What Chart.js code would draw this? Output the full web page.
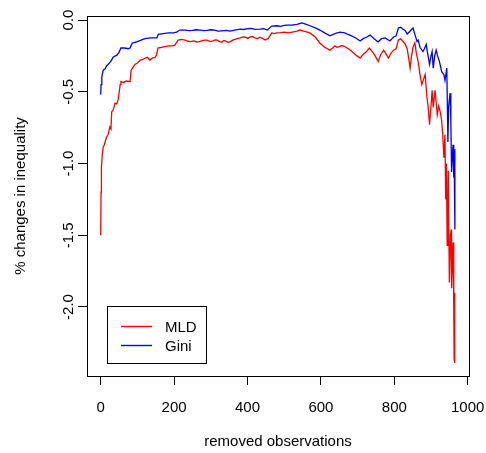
<!DOCTYPE html>
<html>
<head>
<meta charset="utf-8">
<script src="https://cdn.jsdelivr.net/npm/chart.js@4/dist/chart.umd.min.js"></script>
<style>
  html, body { margin: 0; padding: 0; background: #fff; }
</style>
</head>
<body>
<canvas id="myChart" width="486" height="453"></canvas>
<script>
// values
const obsMLD = [0, 1, 2, 4, 7, 10, 13, 16, 20, 25, 28, 30, 35, 39, 44, 48, 53, 55, 62, 70, 80, 83, 88, 93, 100, 108, 115, 121, 127, 134, 140, 148, 152, 156, 165, 175, 185, 195, 202, 206, 211, 220, 230, 238, 245, 254, 262, 268, 275, 283, 290, 298, 306, 312, 318, 324, 330, 335, 340, 347, 353, 360, 365, 372, 380, 388, 395, 401, 407, 414, 420, 427, 434, 441, 448, 456, 466, 473, 480, 490, 500, 512, 525, 535, 543, 556, 570, 585, 597, 610, 625, 632, 638, 644, 650, 656, 661, 668, 675, 682, 689, 698, 707, 715, 724, 732, 740, 748, 756, 763, 771, 778, 784, 791, 798, 805, 811, 817, 824, 830, 835, 840, 843, 847, 851, 856, 860, 865, 870, 875, 880, 884, 889, 892, 896, 900, 903, 906, 911, 917, 921, 925, 929, 932, 935, 938, 940, 942, 944, 946, 947, 950, 953, 955, 956, 958, 960, 962, 963, 964, 965];
const valMLD = [-1.50, -1.20, -1.03, -0.95, -0.885, -0.87, -0.84, -0.815, -0.80, -0.745, -0.76, -0.64, -0.62, -0.58, -0.585, -0.55, -0.45, -0.43, -0.435, -0.425, -0.43, -0.35, -0.33, -0.31, -0.30, -0.28, -0.275, -0.265, -0.26, -0.28, -0.265, -0.26, -0.245, -0.195, -0.19, -0.185, -0.18, -0.18, -0.175, -0.16, -0.14, -0.135, -0.14, -0.148, -0.15, -0.145, -0.153, -0.15, -0.145, -0.14, -0.14, -0.15, -0.145, -0.138, -0.14, -0.15, -0.155, -0.142, -0.145, -0.155, -0.15, -0.14, -0.135, -0.13, -0.125, -0.118, -0.12, -0.128, -0.118, -0.115, -0.125, -0.13, -0.12, -0.128, -0.14, -0.13, -0.09, -0.095, -0.09, -0.088, -0.085, -0.09, -0.083, -0.078, -0.07, -0.08, -0.09, -0.12, -0.16, -0.19, -0.21, -0.195, -0.18, -0.19, -0.185, -0.178, -0.18, -0.19, -0.20, -0.215, -0.23, -0.25, -0.265, -0.24, -0.22, -0.195, -0.22, -0.25, -0.29, -0.24, -0.21, -0.24, -0.265, -0.23, -0.21, -0.20, -0.14, -0.13, -0.15, -0.17, -0.20, -0.28, -0.335, -0.25, -0.19, -0.16, -0.23, -0.29, -0.38, -0.45, -0.41, -0.38, -0.54, -0.60, -0.73, -0.60, -0.49, -0.61, -0.49, -0.66, -0.60, -0.64, -0.70, -0.80, -0.96, -0.80, -1.25, -1.00, -1.57, -1.30, -1.05, -1.83, -1.50, -1.46, -1.87, -1.70, -1.55, -2.00, -2.36, -1.90, -2.39];
const obsGini = [0, 1, 3, 5, 7, 12, 16, 20, 27, 34, 40, 44, 50, 55, 65, 75, 80, 86, 95, 105, 115, 121, 135, 145, 153, 157, 170, 185, 198, 207, 215, 230, 240, 250, 260, 270, 280, 290, 300, 310, 320, 330, 342, 353, 365, 380, 390, 400, 410, 420, 434, 444, 454, 466, 480, 490, 500, 510, 520, 535, 548, 560, 570, 585, 597, 610, 625, 638, 645, 652, 665, 672, 679, 695, 707, 715, 724, 734, 745, 756, 765, 775, 788, 798, 805, 811, 817, 823, 830, 835, 842, 848, 851, 856, 862, 865, 870, 878, 882, 887, 890, 896, 900, 903, 906, 910, 914, 918, 923, 929, 935, 938, 943, 946, 948, 952, 954, 956, 958, 960, 962, 963, 965];
const valGini = [-0.52, -0.45, -0.40, -0.37, -0.35, -0.34, -0.32, -0.31, -0.29, -0.26, -0.25, -0.245, -0.225, -0.195, -0.195, -0.20, -0.195, -0.16, -0.155, -0.145, -0.135, -0.13, -0.125, -0.125, -0.125, -0.10, -0.095, -0.09, -0.09, -0.085, -0.07, -0.07, -0.074, -0.072, -0.068, -0.07, -0.074, -0.072, -0.068, -0.07, -0.078, -0.075, -0.072, -0.077, -0.07, -0.063, -0.066, -0.06, -0.058, -0.065, -0.063, -0.06, -0.07, -0.042, -0.04, -0.044, -0.038, -0.036, -0.035, -0.03, -0.02, -0.03, -0.04, -0.055, -0.07, -0.09, -0.11, -0.095, -0.09, -0.085, -0.09, -0.098, -0.105, -0.125, -0.146, -0.13, -0.12, -0.105, -0.13, -0.153, -0.13, -0.125, -0.146, -0.118, -0.11, -0.056, -0.05, -0.063, -0.075, -0.098, -0.08, -0.063, -0.056, -0.10, -0.15, -0.14, -0.19, -0.22, -0.20, -0.17, -0.22, -0.31, -0.25, -0.22, -0.335, -0.25, -0.21, -0.25, -0.29, -0.36, -0.38, -0.42, -0.335, -0.85, -0.60, -0.51, -0.70, -1.06, -0.95, -0.87, -1.10, -0.90, -1.46];
const seriesNames = ['MLD', 'Gini'];
const seriesColors = ['#ff0000', '#0000ff'];
const xTicks = [0, 200, 400, 600, 800, 1000];
const yTicks = [-2.0, -1.5, -1.0, -0.5, 0.0];

const font = { family: 'Liberation Sans, Arial, sans-serif', size: 15 };

function pts(xs, ys) {
    return xs.map((x, i) => ({ x: x, y: ys[i] }));
}

// R style box around the plot region
const boxPlugin = {
    id: 'box',
    afterDraw(chart) {
        const a = chart.chartArea;
        const ctx = chart.ctx;
        ctx.save();
        ctx.strokeStyle = '#000';
        ctx.lineWidth = 1;
        ctx.strokeRect(Math.round(a.left) + 0.5, Math.round(a.top) + 0.5, Math.round(a.right - a.left), Math.round(a.bottom - a.top));
        ctx.restore();
    }
};

// legend box in the lower left corner of the plot
const legendPlugin = {
    id: 'rlegend',
    afterDraw(chart) {
        const a = chart.chartArea;
        const ctx = chart.ctx;
        const x0 = a.left + 20, y0 = a.bottom - 70;
        ctx.save();
        ctx.fillStyle = '#fff';
        ctx.fillRect(x0, y0, 99, 57);
        ctx.strokeStyle = '#000';
        ctx.lineWidth = 1;
        ctx.strokeRect(x0 + 0.5, y0 + 0.5, 99, 57);
        ctx.font = font.size + 'px ' + font.family;
        ctx.textBaseline = 'middle';
        ctx.textAlign = 'left';
        chart.data.datasets.forEach((ds, i) => {
            const y = y0 + 20.5 + i * 19;
            ctx.strokeStyle = ds.borderColor;
            ctx.lineWidth = 1.4;
            ctx.beginPath();
            ctx.moveTo(x0 + 14, y);
            ctx.lineTo(x0 + 45, y);
            ctx.stroke();
            ctx.fillStyle = '#000';
            ctx.fillText(ds.label, x0 + 58, y + 1);
        });
        ctx.restore();
    }
};

const ctx = document.getElementById('myChart').getContext('2d');
const chart = new Chart(ctx, {
    type: 'line',
    data: {
        datasets: [
            { label: seriesNames[0], data: pts(obsMLD, valMLD), borderColor: seriesColors[0], borderWidth: 1.3, pointRadius: 0, tension: 0 },
            { label: seriesNames[1], data: pts(obsGini, valGini), borderColor: seriesColors[1], borderWidth: 1.3, pointRadius: 0, tension: 0 }
        ]
    },
    options: {
        responsive: false,
        animation: false,
        devicePixelRatio: 1,
        layout: { padding: { left: 0, top: 16, right: 17, bottom: 0 } },
        plugins: { legend: { display: false }, tooltip: { enabled: false } },
        scales: {
            x: {
                type: 'linear',
                min: -37.3,
                max: 1003.5,
                afterBuildTicks: s => { s.ticks = xTicks.map(v => ({ value: v })); },
                afterFit: s => { s.height = 77; s.paddingLeft = 0; s.paddingRight = 0; },
                grid: { drawOnChartArea: false, drawTicks: true, tickLength: 9, color: '#000' },
                border: { display: false },
                ticks: { color: '#000', font: font, padding: 14, maxRotation: 0, callback: v => String(v) },
                title: { display: true, text: 'removed observations', color: '#000', font: font, padding: { bottom: 2 } }
            },
            y: {
                type: 'linear',
                min: -2.481,
                max: 0.028,
                afterBuildTicks: s => { s.ticks = yTicks.map(v => ({ value: v })); },
                afterFit: s => { s.width = 87; s.paddingTop = 0; s.paddingBottom = 0; },
                grid: { drawOnChartArea: false, drawTicks: true, tickLength: 9, color: '#000' },
                border: { display: false },
                ticks: { color: '#000', font: font, padding: -4, minRotation: 90, maxRotation: 90, crossAlign: 'center', callback: v => v.toFixed(1) },
                title: { display: true, text: '% changes in inequality', color: '#000', font: font, padding: { top: 12 } }
            }
        }
    },
    plugins: [boxPlugin, legendPlugin]
});
</script>
</body>
</html>
